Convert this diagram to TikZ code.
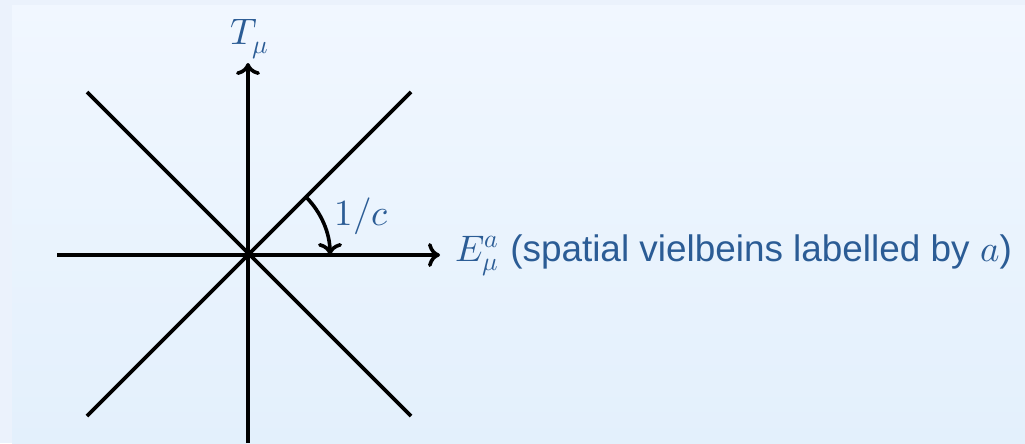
\documentclass[tikz,border=0pt]{standalone}
\usepackage{fontspec}
\setsansfont{Liberation Sans}
\usepackage{unicode-math}
\setmathfont{Latin Modern Math}
\usetikzlibrary{arrows.meta}
\definecolor{lbl}{HTML}{2B5C95}
\definecolor{bgout}{HTML}{EBF2FC}
\definecolor{bgtop}{HTML}{F1F7FF}
\definecolor{bgbot}{HTML}{E3F0FC}
\begin{document}
\begin{tikzpicture}[x=0.3333pt,y=-0.3333pt,
  tipstyle/.style={-{To[length=4pt,width=8pt]}},
  axis/.style={line width=1.2pt,tipstyle},
  ray/.style={line width=1.2pt},
  lab/.style={text=lbl,font=\sffamily\fontsize{12.3}{14}\selectfont,inner sep=0pt}]
\fill[bgout] (0,0) rectangle (1025,443);
\shade[top color=bgtop,bottom color=bgbot] (12,5) rectangle (1025,443);
\useasboundingbox (0,0) rectangle (1025,443);
\coordinate (O) at (248,255);
\coordinate (B) at (248,443);
\coordinate (Ttip) at (248,63);
\coordinate (L) at (57,255);
\coordinate (Etip) at (440,255);
\coordinate (TL) at (87,92);
\coordinate (TR) at (411,92);
\coordinate (BL) at (87,416);
\coordinate (BR) at (411,416);
\draw[axis] (B) -- (Ttip);
\draw[axis] (L) -- (Etip);
\draw[ray] (BL) -- (TR);
\draw[ray] (TL) -- (BR);
\draw[line width=1.2pt,tipstyle] ([shift={(45:82*0.3333pt)}]O) arc[start angle=45,end angle=0,radius=82*0.3333pt];
\node[lab,anchor=base] (T) at (250,44) {$T_\mu$};
\node[lab,anchor=base west] (c) at (334,225) {$1/c$};
\node[lab,anchor=west] (E) at (455,255) {$E_\mu^a$ (spatial vielbeins labelled by $a$)};
\end{tikzpicture}
\end{document}
